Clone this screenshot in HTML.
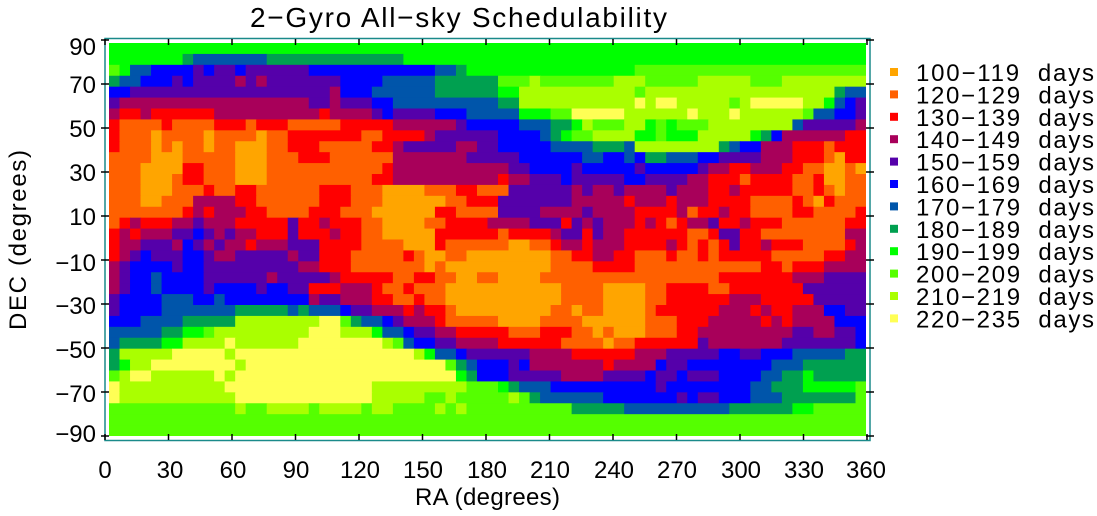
<!DOCTYPE html>
<html><head><meta charset="utf-8">
<style>
html,body{margin:0;padding:0;background:#fff;}
svg{display:block;font-family:"Liberation Sans",Arial,sans-serif;}
</style></head>
<body>
<svg id="s" width="1097" height="516" viewBox="0 0 1097 516" xmlns="http://www.w3.org/2000/svg">
<rect width="1097" height="516" fill="#fff"/>
<g id="cells"></g>
<rect x="105" y="38.5" width="765" height="402" fill="none" stroke="#1a8a8a" stroke-width="1.5"/>
<g id="ticks" stroke="#000" stroke-width="1.5"></g>
<text x="250" y="27" font-size="28" textLength="417" lengthAdjust="spacing">2−Gyro All−sky Schedulability</text>
<g font-size="24" text-anchor="end" id="ylab">
<text x="96" y="55">90</text>
<text x="96" y="93">70</text>
<text x="96" y="137">50</text>
<text x="96" y="181">30</text>
<text x="96" y="225">10</text>
<text x="96" y="271">−10</text>
<text x="96" y="314">−30</text>
<text x="96" y="358">−50</text>
<text x="96" y="402">−70</text>
<text x="96" y="442">−90</text>
</g>
<g font-size="24" text-anchor="middle">
<text x="105" y="478">0</text>
<text x="170" y="478">30</text>
<text x="233" y="478">60</text>
<text x="296" y="478">90</text>
<text x="360" y="478">120</text>
<text x="423" y="478">150</text>
<text x="487" y="478">180</text>
<text x="550" y="478">210</text>
<text x="614" y="478">240</text>
<text x="677" y="478">270</text>
<text x="741" y="478">300</text>
<text x="804" y="478">330</text>
<text x="866" y="478">360</text>
</g>
<text x="415" y="505" font-size="24" textLength="145" lengthAdjust="spacing">RA (degrees)</text>
<text transform="translate(26,330) rotate(-90)" font-size="24" textLength="180" lengthAdjust="spacing">DEC (degrees)</text>
<g id="legend" font-size="24"></g>
</svg>
<script>
var C={a:"#FFA500",b:"#FF6000",c:"#FF0000",d:"#A8005A",e:"#5500AA",f:"#0000FF",g:"#0055AA",h:"#00A050",i:"#00FF00",j:"#55FF00",k:"#AAFF00",l:"#FFFF55"};
var R=[
"i72",
"i7h1g7h13i44",
"j1i1g2f4e1f1e2f1e6f12g2h1i16j22",
"h1g2f3e1f1e4d1e1d1e7f4g5h6j3k1j7k3j5k5j3k8",
"f2e19d1f3g6h6i2k11j1k18h1g2",
"e1d18e2d1e3f2g10h2k11l1k1l2k5j1k1l5k2i1g1f1e1",
"d1c2d1c6d10c1d4e1f1e4f3g3g2i3j2l5k6l1k3l1k6j1g2f2e1",
"c1b4c1b4c3b1c3b5c5d6e1f3f2g3h2i1k1j3k2i1j1i1j3k8g1e5d1",
"c1b3a1b4a1b4a1b2c7b2c4d1e6f4g1h1i1j2k4i2j1i3k5i1h1f1d6c2",
"c1b3a1b1a1b2a1b2a3b2c3b5c2d1e5d2e2f5g4h3g1k8h1g1f2d3c3b1c3",
"b4a3b1b4a3b3c3b6d7e3e2f6g2f2g1f1h2g3f2e4d3c3b1a1c2",
"b3a4c2b3a3b11c1d10d1e2f4e1f5e1f5e1d2c2d3c2b2a2b1a1",
"b3a3b1c2b3a3b10c2d10c1d2e3f1e5f2e4d2c3b1c4b2c1a2b2",
"b3a3b3c1b2c2b6c3b3a4b3c2b2b1e6d1e1d2e1d4e1d3c2d1c5b2c1b1a1b2",
"b3a2b3d4c2b6c3b3a6b2c3e7d5c1d3c1d3c4b4c1b1a1c1b3",
"b7c1d1c1d3c2b4c3b3a6c2b4e4d4e1d4c4d1b1c2d1c2b4c2b4c1",
"b1c1d1c3d2e1d3c5e1c2d1c3b2a4b2c4d4e3c1e1d1e1d3c1d1c1b1c1d2e1c2d1c3b6c2",
"c1d1c1d3e2f1e1d1e1d2c3e1c3d1c2b2a5c6b1c4d1e2c1e1d2c6b2c1e2c2b8d2",
"c1d2e3d1f1e1d1e1d2c1d3e3c4b4a3c1b5b1a2b2c1d2c1d3c4d1c1b1c1b1c1e1c2d1c3b4c1d1",
"c1d1e1f1e3f2e1d2e5d1e2c3b5c1b1a2b2a3a5b2c2d2c2b3c1b2c1b1c5b5c2d2",
"d1e1f4e1f2e9d2c3b7a1b1a5a5b4c4b12c2b1c3d4",
"d1e1f2g1f4e6d1e5d1c5b2c2b2a2b2a4b17c7d3e4",
"d1e1f2g1f4e1f4e1f2e2c3d3c1b2c1b3a5a6b4a4b2c4b2c7e6",
"e1f4g3f2g1f8d1e2d3c2b2c1b2a5a6b4a4b2c6d3c5e5",
"e1f4g7h5g1h1g3f1e2d3c1d1c2b1a4a5b2a1b2a4b1c6d3c1d1c2d3f2e2",
"f3g4h5k8l2j1h1g2f1e1d3c1b5a4b4a6b3c3d5c1d1c1d4f3",
"g5h2i2j1k9l3k3i1g2f1e2d2c4c1b3c3b2a1b1a3b3c2d9e2d2e2f1",
"g1h4i2k4l1k6l8k1j1g1f2e2d4c6b4a1b2c6e1d7e7f1",
"h1k5l5k1l17k1i1g2f1e3e3d4c6d3e5f2e2f3g5h2",
"h1i1k2l8k1l19j1h1g1f2f1e1f1d7c1d4f1e2f8g3h6",
"j1k1l2k6l1k1l21i1h1f2f1e5d4e4f1e2f1e3f4g2h2i1h5",
"l1k10l14k9j3i1h1g3f10e1f8g2h3i5j1",
"l1k11l13k5j2k1j4j1k1j1h1g6f7e1f1e2f3g3h7j1",
"j12k1j2k4j1k4j1k2j4k1j1k1j3j7h5g10h6i2j5",
"j72","j72"];
var ns="http://www.w3.org/2000/svg",cells=document.getElementById("cells");
var x0=109,y0=43,cw=(866-109)/72,rh=(436-43)/36;
R.forEach(function(s,r){var re=/([a-l])(\d+)/g,m,arr=[];while((m=re.exec(s))){for(var q=0;q<+m[2];q++)arr.push(m[1]);}
while(arr.length<72)arr.push(arr[arr.length-1]);arr.length=72;
var c=0;while(c<72){var k=arr[c],n=1;while(c+n<72&&arr[c+n]==k)n++;
var e=document.createElementNS(ns,"rect");e.setAttribute("x",(x0+c*cw).toFixed(2));e.setAttribute("y",(y0+r*rh).toFixed(2));
e.setAttribute("width",(n*cw+(c+n<72?0.6:0)).toFixed(2));e.setAttribute("height",(rh+(r<35?0.6:0)).toFixed(2));e.setAttribute("fill",C[k]);cells.appendChild(e);c+=n;}});
var t=document.getElementById("ticks"),h="";
for(var k=0;k<=12;k++){var x=105+k*63.5;h+='<line x1="'+x+'" y1="39" x2="'+x+'" y2="45"/><line x1="'+x+'" y1="440" x2="'+x+'" y2="434"/>';}
for(var k=0;k<=9;k++){var y=40+k*44;h+='<line x1="101" y1="'+y+'" x2="109" y2="'+y+'"/><line x1="866" y1="'+y+'" x2="874" y2="'+y+'"/>';}
t.innerHTML=h;
var L=[["a","100−119"],["b","120−129"],["c","130−139"],["d","140−149"],["e","150−159"],["f","160−169"],["g","170−179"],["h","180−189"],["i","190−199"],["j","200−209"],["k","210−219"],["l","220−235"]];
var lg=document.getElementById("legend"),g="";
L.forEach(function(p,i){var y=73+i*22.4;g+='<rect x="890" y="'+(y-5)+'" width="8" height="8" fill="'+C[p[0]]+'"/><text x="916" y="'+(y+8)+'" textLength="178" lengthAdjust="spacing">'+p[1]+'&#160; days</text>';});
lg.innerHTML=g;
</script>
</body></html>
